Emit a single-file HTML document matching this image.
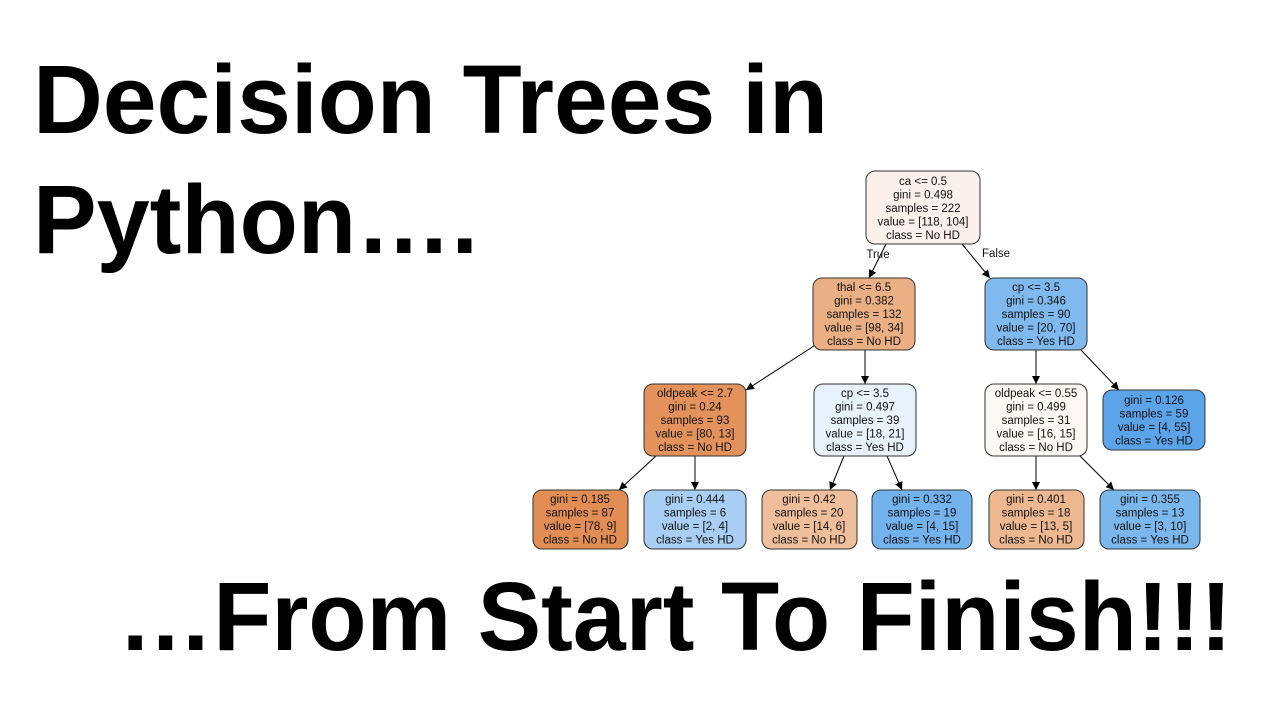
<!DOCTYPE html>
<html><head><meta charset="utf-8"><style>
html,body{margin:0;padding:0;background:#fff;}
svg{display:block;}
.t{font-family:"Liberation Sans",Arial,sans-serif;font-weight:bold;font-size:97px;fill:#000;}
.n{font-family:"Liberation Sans",Arial,sans-serif;font-size:11.5px;fill:#111;text-anchor:middle;}
.b{stroke:#333;stroke-width:1;}
.e{stroke:#000;stroke-width:1;marker-end:url(#a);}
</style></head><body>
<svg width="1280" height="720" viewBox="0 0 1280 720" xmlns="http://www.w3.org/2000/svg">
<defs><marker id="a" viewBox="0 0 10 10" refX="10" refY="5" markerWidth="8" markerHeight="8" markerUnits="userSpaceOnUse" orient="auto"><path d="M0,0L10,5L0,10z" fill="#000"/></marker></defs>
<text class="t" x="33" y="133" textLength="795" lengthAdjust="spacingAndGlyphs">Decision Trees in</text>
<text class="t" x="33" y="253" textLength="445" lengthAdjust="spacingAndGlyphs">Python….</text>
<text class="t" x="118" y="650" textLength="1114" lengthAdjust="spacingAndGlyphs">…From Start To Finish!!!</text>

<line class="e" x1="886" y1="244" x2="869" y2="278"/>
<line class="e" x1="962" y1="244" x2="990" y2="278"/>
<line class="e" x1="817" y1="344" x2="746" y2="390"/>
<line class="e" x1="865" y1="350" x2="865" y2="384"/>
<line class="e" x1="1036" y1="350" x2="1036" y2="384"/>
<line class="e" x1="1081" y1="350" x2="1119" y2="390"/>
<line class="e" x1="656" y1="456" x2="619" y2="490"/>
<line class="e" x1="695" y1="456" x2="695" y2="490"/>
<line class="e" x1="844" y1="456" x2="830" y2="490"/>
<line class="e" x1="887" y1="456" x2="902" y2="490"/>
<line class="e" x1="1036" y1="456" x2="1036" y2="490"/>
<line class="e" x1="1080" y1="456" x2="1114" y2="490"/>
<text class="n" x="878" y="258">True</text>
<text class="n" x="996" y="257">False</text>

<rect class="b" x="866" y="171" width="114" height="73" rx="9" fill="#fcf1ea"/>
<text class="n" x="923" y="185">ca &lt;= 0.5</text><text class="n" x="923" y="198.5">gini = 0.498</text><text class="n" x="923" y="212">samples = 222</text><text class="n" x="923" y="225.5">value = [118, 104]</text><text class="n" x="923" y="239">class = No HD</text>

<rect class="b" x="813" y="278" width="102" height="72" rx="9" fill="#eab083"/>
<text class="n" x="864" y="291">thal &lt;= 6.5</text><text class="n" x="864" y="304.5">gini = 0.382</text><text class="n" x="864" y="318">samples = 132</text><text class="n" x="864" y="331.5">value = [98, 34]</text><text class="n" x="864" y="345">class = No HD</text>

<rect class="b" x="985" y="278" width="102" height="72" rx="9" fill="#7fb9ee"/>
<text class="n" x="1036" y="291">cp &lt;= 3.5</text><text class="n" x="1036" y="304.5">gini = 0.346</text><text class="n" x="1036" y="318">samples = 90</text><text class="n" x="1036" y="331.5">value = [20, 70]</text><text class="n" x="1036" y="345">class = Yes HD</text>

<rect class="b" x="644" y="384" width="102" height="72" rx="9" fill="#e2925a"/>
<text class="n" x="695" y="397">oldpeak &lt;= 2.7</text><text class="n" x="695" y="410.5">gini = 0.24</text><text class="n" x="695" y="424">samples = 93</text><text class="n" x="695" y="437.5">value = [80, 13]</text><text class="n" x="695" y="451">class = No HD</text>

<rect class="b" x="814" y="384" width="102" height="72" rx="9" fill="#e8f2fc"/>
<text class="n" x="865" y="397">cp &lt;= 3.5</text><text class="n" x="865" y="410.5">gini = 0.497</text><text class="n" x="865" y="424">samples = 39</text><text class="n" x="865" y="437.5">value = [18, 21]</text><text class="n" x="865" y="451">class = Yes HD</text>

<rect class="b" x="985" y="384" width="102" height="72" rx="9" fill="#fdf8f4"/>
<text class="n" x="1036" y="397">oldpeak &lt;= 0.55</text><text class="n" x="1036" y="410.5">gini = 0.499</text><text class="n" x="1036" y="424">samples = 31</text><text class="n" x="1036" y="437.5">value = [16, 15]</text><text class="n" x="1036" y="451">class = No HD</text>

<rect class="b" x="1103" y="390" width="102" height="60" rx="9" fill="#5ca4e9"/>
<text class="n" x="1154" y="404">gini = 0.126</text><text class="n" x="1154" y="417.5">samples = 59</text><text class="n" x="1154" y="431">value = [4, 55]</text><text class="n" x="1154" y="444.5">class = Yes HD</text>

<rect class="b" x="533" y="490" width="95" height="59" rx="9" fill="#e18d53"/>
<text class="n" x="580" y="503">gini = 0.185</text><text class="n" x="580" y="516.5">samples = 87</text><text class="n" x="580" y="530">value = [78, 9]</text><text class="n" x="580" y="543.5">class = No HD</text>

<rect class="b" x="644" y="490" width="102" height="59" rx="9" fill="#a8cef3"/>
<text class="n" x="695" y="503">gini = 0.444</text><text class="n" x="695" y="516.5">samples = 6</text><text class="n" x="695" y="530">value = [2, 4]</text><text class="n" x="695" y="543.5">class = Yes HD</text>

<rect class="b" x="762" y="490" width="95" height="59" rx="9" fill="#efbe9a"/>
<text class="n" x="809" y="503">gini = 0.42</text><text class="n" x="809" y="516.5">samples = 20</text><text class="n" x="809" y="530">value = [14, 6]</text><text class="n" x="809" y="543.5">class = No HD</text>

<rect class="b" x="872" y="490" width="100" height="59" rx="9" fill="#72b2ed"/>
<text class="n" x="922" y="503">gini = 0.332</text><text class="n" x="922" y="516.5">samples = 19</text><text class="n" x="922" y="530">value = [4, 15]</text><text class="n" x="922" y="543.5">class = Yes HD</text>

<rect class="b" x="989" y="490" width="95" height="59" rx="9" fill="#edb890"/>
<text class="n" x="1036" y="503">gini = 0.401</text><text class="n" x="1036" y="516.5">samples = 18</text><text class="n" x="1036" y="530">value = [13, 5]</text><text class="n" x="1036" y="543.5">class = No HD</text>

<rect class="b" x="1100" y="490" width="100" height="59" rx="9" fill="#7ab7ed"/>
<text class="n" x="1150" y="503">gini = 0.355</text><text class="n" x="1150" y="516.5">samples = 13</text><text class="n" x="1150" y="530">value = [3, 10]</text><text class="n" x="1150" y="543.5">class = Yes HD</text>
</svg>
</body></html>
